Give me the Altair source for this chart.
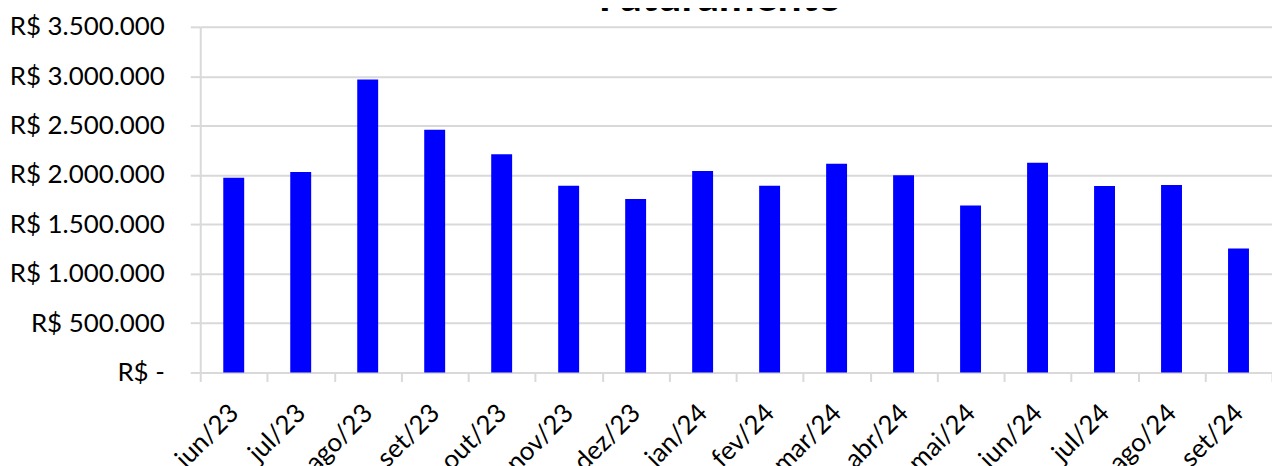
import altair as alt
import pandas as pd

months = ["jun/23", "jul/23", "ago/23", "set/23", "out/23", "nov/23", "dez/23",
          "jan/24", "fev/24", "mar/24", "abr/24", "mai/24", "jun/24", "jul/24",
          "ago/24", "set/24"]
faturamento = [1973000, 2030000, 2966000, 2458000, 2210000, 1890000, 1757000,
               2040000, 1890000, 2114000, 1996000, 1690000, 2124000, 1889000,
               1899000, 1256000]
y_ticks = [0, 500000, 1000000, 1500000, 2000000, 2500000, 3000000, 3500000]
title_text = ["Faturamento"]

df = pd.DataFrame({"mes": months, "valor": faturamento})
df_title = pd.DataFrame({"t": title_text})

FONT = "Lato"
GRID = "#d9d9d9"

label_expr = ("datum.value == 0 ? 'R$ -' : 'R$ ' + "
              "replace(replace(format(datum.value, ',.0f'), ',', '.'), ',', '.')")

bars = alt.Chart(df).mark_bar(color="#0000FF", size=21).encode(
    x=alt.X("mes:N", sort=months, title=None,
            scale=alt.Scale(paddingInner=0.0, paddingOuter=0.0),
            axis=alt.Axis(labelAngle=-45, labelFontSize=26, labelFont=FONT,
                          labelColor="#000000", labelPadding=18, labelOffset=-9,
                          tickBand="extent", tickSize=9, tickColor=GRID,
                          tickWidth=2, domainColor=GRID, domainWidth=2,
                          grid=False, labelOverlap=False)),
    y=alt.Y("valor:Q", title=None,
            scale=alt.Scale(domain=[0, 3500000], nice=False),
            axis=alt.Axis(values=y_ticks, labelExpr=label_expr,
                          labelFontSize=26, labelFont=FONT, labelColor="#000000",
                          labelPadding=26, tickSize=10, tickColor=GRID,
                          tickWidth=2, domainColor=GRID, domainWidth=2,
                          gridColor=GRID, gridWidth=2)),
)

title = alt.Chart(df_title).mark_text(
    font=FONT, fontSize=43, fontWeight="bold", color="#000000",
    align="center", baseline="alphabetic"
).encode(
    text="t:N",
    x=alt.value(522),
    y=alt.value(-16),
)

chart = alt.layer(bars, title).properties(
    width=1076,
    height=347,
    autosize=alt.AutoSizeParams(type="none"),
    padding={"left": 193, "top": 18, "right": 0, "bottom": 100},
).configure_view(stroke=None)

chart.save("out.html", embed_options={"renderer": "svg", "actions": False})
